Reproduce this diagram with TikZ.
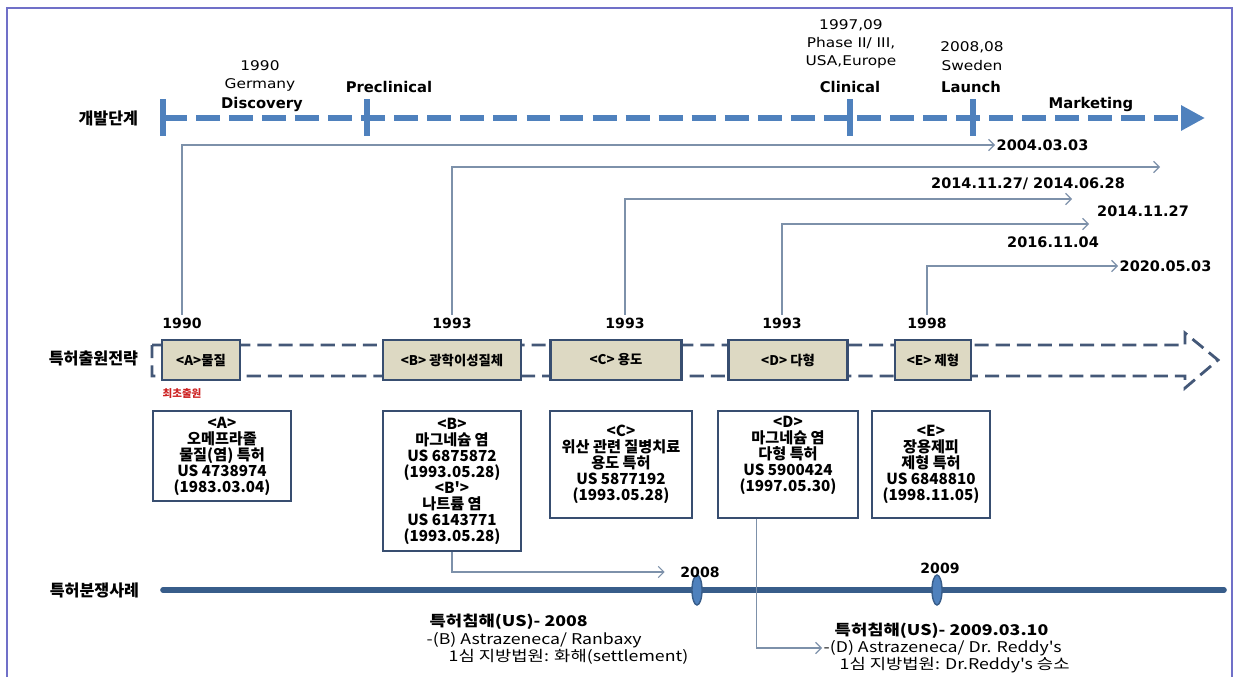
\documentclass[tikz,border=0pt]{standalone}
\usepackage{fontspec}
\setmainfont{DejaVu Sans}
\newfontfamily\kr{Noto Sans CJK KR}
\newfontfamily\krwide{Noto Sans CJK KR}[FakeStretch=1.2]
\newfontfamily\widesans{DejaVu Sans}[FakeStretch=1.15]
\usetikzlibrary{arrows.meta,shapes.geometric}

\definecolor{devblue}{RGB}{79,129,189}
\definecolor{framecol}{RGB}{112,112,200}
\definecolor{linkgray}{RGB}{125,145,170}
\definecolor{stratcol}{RGB}{68,88,120}
\definecolor{boxedge}{RGB}{56,78,112}
\definecolor{boxtan}{RGB}{221,217,195}
\definecolor{casecol}{RGB}{56,93,138}
\definecolor{firstred}{RGB}{205,35,35}

\newcommand{\fsz}[2]{\fontsize{#1}{#2}\selectfont}

\begin{document}
\begin{tikzpicture}[x=0.025cm, y=-0.025cm,
    rowname/.style ={anchor=east, font=\kr\bfseries\fsz{11.5}{13}},
    stage/.style ={font=\bfseries\fsz{10.5}{12}},
    stagenote/.style ={align=center, font=\widesans\fsz{9.5}{13}},
    expiry/.style ={font=\bfseries\fsz{10.3}{12}, inner sep=1pt},
    year/.style ={font=\bfseries\fsz{10}{12}, inner sep=2pt},
    claim/.style ={draw=boxedge, line width=2pt, fill=boxtan, minimum height=1cm, inner sep=1pt, font=\kr\bfseries\fsz{9.5}{11}},
    detail/.style ={draw=boxedge, line width=2pt, fill=white, align=center, font=\kr\bfseries\fsz{10.8}{11.4}},
    casetext/.style ={anchor=west, inner sep=1pt, font=\krwide\fsz{10.5}{12}},
    link/.style ={draw=linkgray, line width=0.8pt, -{Straight Barb[length=4pt,width=8pt]}},
    devline/.style ={devblue, line width=4.2pt, dash pattern=on 17pt off 6.5pt},
    devtick/.style ={devblue, line width=4.2pt},
    stratline/.style ={stratcol, line width=2pt, dash pattern=on 10pt off 5pt},
    caseline/.style ={casecol, line width=4pt, line cap=round},
    marker/.style ={ellipse, draw=casecol, fill=devblue, line width=1pt, minimum width=0.25cm, minimum height=0.75cm, inner sep=0pt}]
   \useasboundingbox (0,0) rectangle (1241,677);
   \draw[framecol, line width=1pt] (7,677) -- (7,8) -- (1232,8) -- (1232,677);

   \node[rowname] (devrow)   at (143,118) {개발단계};
   \node[rowname] (filerow)  at (143,358) {특허출원전략};
   \node[rowname] (caserow)  at (144,590) {특허분쟁사례};

   \coordinate (disc)   at (163,118);
   \coordinate (precl)  at (367,118);
   \coordinate (clin)   at (850,118);
   \coordinate (launch) at (973,118);
   \coordinate (mkt)    at (1205,118);
   \draw[devline, -{Triangle[length=17pt,width=17pt]}] (disc) -- (mkt);
   \foreach \x in {163,367,850,973}
      \draw[devtick] (\x,99) -- (\x,136);

   \node[stagenote] (discnote) at (260,76) {1990\\Germany};
   \node[stage] (discovery)  at (262,104) {Discovery};
   \node[stage] (preclinical) at (389,87) {Preclinical};
   \node[stagenote] (clinnote) at (851,44) {1997,09\\Phase II/ III,\\USA,Europe};
   \node[stage] (clinical)   at (850,87) {Clinical};
   \node[stagenote] (launchnote) at (972,56) {2008,08\\Sweden};
   \node[stage] (launching)  at (971,87) {Launch};
   \node[stage] (marketing)  at (1091,104) {Marketing};

   \draw[stratline] (152,345) -- (1185,345) -- (1185,333) -- (1218,360)
      -- (1185,388) -- (1185,376) -- (152,376) -- cycle;

   \node[year] (yA) at (182,323) {1990};
   \node[year] (yB) at (452,323) {1993};
   \node[year] (yC) at (625,323) {1993};
   \node[year] (yD) at (782,323) {1993};
   \node[year] (yE) at (927,323) {1998};

   \node[claim, minimum width=1.95cm]  (cA) at (201,360) {<A>물질};
   \node[claim, minimum width=3.45cm]  (cB) at (452,360) {<B> 광학이성질체};
   \node[claim, minimum width=3.275cm] (cC) at (616,360) {<C> 용도};
   \node[claim, minimum width=2.975cm] (cD) at (788,360) {<D> 다형};
   \node[claim, minimum width=1.9cm]   (cE) at (933,360) {<E> 제형};

   \node[font=\kr\bfseries\fsz{7.5}{9}, text=firstred] (first) at (182,394) {최초출원};

   \node[expiry, anchor=west] (t1) at (995,145) {2004.03.03};
   \coordinate (e2) at (1160,167);
   \node[expiry] (t2) at (1028,184) {2014.11.27/ 2014.06.28};
   \coordinate (e3) at (1072,199);
   \node[expiry] (t3) at (1143,211) {2014.11.27};
   \coordinate (e4) at (1089,224);
   \node[expiry] (t4) at (1053,242) {2016.11.04};
   \node[expiry, anchor=west] (t5) at (1118,266) {2020.05.03};

   \draw[link] (yA.north) |- (t1.west);
   \draw[link] (yB.north) |- (e2);
   \draw[link] (yC.north) |- (e3);
   \draw[link] (yD.north) |- (e4);
   \draw[link] (yE.north) |- (t5.west);

   \node[detail, minimum width=3.45cm, minimum height=2.25cm] (dA) at (222,456)
      {<A>\\오메프라졸\\물질(염) 특허\\US 4738974\\(1983.03.04)};
   \node[detail, minimum width=3.45cm, minimum height=3.5cm] (dB) at (452,481)
      {<B>\\마그네슘 염\\US 6875872\\(1993.05.28)\\<B'>\\나트륨 염\\US 6143771\\(1993.05.28)};
   \node[detail, minimum width=3.55cm, minimum height=2.675cm] (dC) at (621,464.5)
      {<C>\\위산 관련 질병치료\\용도 특허\\US 5877192\\(1993.05.28)};
   \node[detail, minimum width=3.5cm, minimum height=2.675cm] (dD) at (788,464.5)
      {<D>\\마그네슘 염\\다형 특허\\US 5900424\\(1997.05.30)\\[4pt]};
   \node[detail, minimum width=2.95cm, minimum height=2.675cm] (dE) at (931,464.5)
      {<E>\\장용제피\\제형 특허\\US 6848810\\(1998.11.05)};

   \coordinate (case0) at (163,590);
   \coordinate (case1) at (1224,590);
   \draw[caseline] (case0) -- (case1);
   \node[marker] (m08) at (697,590) {};
   \node[marker] (m09) at (937,590) {};
   \node[year] (y08) at (700,572) {2008};
   \node[year] (y09) at (940,568) {2009};

   \node[casetext] (caseBa) at (428,622) {\bfseries 특허침해(US)- 2008};
   \node[casetext] (caseBb) at (425,640) {-(B) Astrazeneca/ Ranbaxy};
   \node[casetext] (caseBc) at (447,657) {1심 지방법원: 화해(settlement)};
   \node[casetext] (caseDa) at (833,631) {\bfseries 특허침해(US)- 2009.03.10};
   \node[casetext] (caseDb) at (822,648) {-(D) Astrazeneca/ Dr. Reddy's};
   \node[casetext] (caseDc) at (838,665) {1심 지방법원: Dr.Reddy's 승소};

   \draw[link, shorten >=9pt] (dB.south) |- (y08.west);
   \draw[link] ([xshift=-0.78cm]dD.south) |- (caseDb.west);
\end{tikzpicture}
\end{document}
